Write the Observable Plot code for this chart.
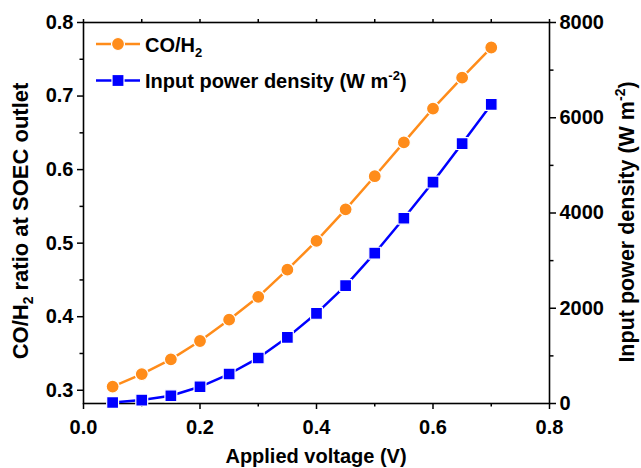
<!DOCTYPE html>
<html>
<head>
<meta charset="utf-8">
<script src="https://cdn.jsdelivr.net/npm/d3@7"></script>
<script src="https://cdn.jsdelivr.net/npm/@observablehq/plot@0.6"></script>
<style>
  html, body { margin: 0; padding: 0; background: #fff; }
  #wrap { position: relative; width: 641px; height: 468px; overflow: hidden; }
  #overlay { position: absolute; left: 0; top: 0; pointer-events: none; }
  #overlay text { font-family: "Liberation Sans", Arial, sans-serif; font-weight: bold; fill: #000; }
</style>
</head>
<body>
<div id="wrap"></div>
<script>
// ---- data ----
const voltage = [0.05, 0.10, 0.15, 0.20, 0.25, 0.30, 0.35, 0.40, 0.45, 0.50, 0.55, 0.60, 0.65, 0.70];
const coH2Ratio = [0.305, 0.322, 0.342, 0.367, 0.396, 0.427, 0.464, 0.503, 0.546, 0.591, 0.637, 0.683, 0.725, 0.766];
const powerDensity = [21, 72, 162, 351, 619, 955, 1389, 1894, 2476, 3156, 3890, 4650, 5458, 6279];

const xMajorTicks = [0.0, 0.2, 0.4, 0.6, 0.8];
const xMinorTicks = [0.1, 0.3, 0.5, 0.7];
const yLeftMajorTicks = [0.3, 0.4, 0.5, 0.6, 0.7, 0.8];
const yLeftMinorTicks = [0.35, 0.45, 0.55, 0.65, 0.75];
const yRightMajorTicks = [0, 2000, 4000, 6000, 8000];
const yRightMinorTicks = [1000, 3000, 5000, 7000];

const leftDomain = [0.282, 0.8];
const rightDomain = [0, 8000];

const orange = "#ff8c1a";
const blue = "#0000ff";

// map right-axis values onto the left y scale
const toLeft = d3.scaleLinear().domain(rightDomain).range(leftDomain);

const coData = voltage.map((v, i) => ({v, r: coH2Ratio[i]}));
const powData = voltage.map((v, i) => ({v, p: powerDensity[i], y: toLeft(powerDensity[i])}));

const font = "Liberation Sans, Arial, sans-serif";

const chart = Plot.plot({
  width: 641,
  height: 468,
  marginLeft: 83,
  marginRight: 92,
  marginTop: 22,
  marginBottom: 65,
  style: {fontFamily: font, fontSize: "20px", fontWeight: "bold", color: "#000", background: "white", overflow: "visible"},
  x: {domain: [0, 0.8]},
  y: {domain: leftDomain},
  marks: [
    Plot.axisX({ticks: xMajorTicks, tickSize: 6, tickPadding: 10, strokeWidth: 1.5, tickFormat: d3.format(".1f"), label: null}),
    Plot.axisX({ticks: xMinorTicks, tickSize: 3.5, strokeWidth: 1.5, tickFormat: () => "", label: null}),
    Plot.axisX({anchor: "top", ticks: xMajorTicks.concat(xMinorTicks), tickSize: 4, strokeWidth: 1.5, tickFormat: () => "", label: null}),
    Plot.axisY({ticks: yLeftMajorTicks, tickSize: 6, tickPadding: 4, strokeWidth: 1.5, tickFormat: d3.format(".1f"), label: null}),
    Plot.axisY({ticks: yLeftMinorTicks, tickSize: 3.5, strokeWidth: 1.5, tickFormat: () => "", label: null}),
    Plot.axisY({anchor: "right", ticks: yRightMajorTicks.map(toLeft), tickSize: 6, tickPadding: 4, strokeWidth: 1.5,
      tickFormat: d => String(Math.round(toLeft.invert(d))), label: null}),
    Plot.axisY({anchor: "right", ticks: yRightMinorTicks.map(toLeft), tickSize: 3.5, strokeWidth: 1.5, tickFormat: () => "", label: null}),
    Plot.frame({stroke: "#000", strokeWidth: 1.6}),
    Plot.line(coData, {x: "v", y: "r", stroke: orange, strokeWidth: 2.5}),
    Plot.dot(coData, {x: "v", y: "r", r: 6.5, fill: orange, stroke: "white", strokeWidth: 1.2}),
    Plot.line(powData, {x: "v", y: "y", stroke: blue, strokeWidth: 2.5}),
    Plot.dot(powData, {x: "v", y: "y", symbol: "square", r: 6.7, fill: blue, stroke: "white", strokeWidth: 1.2})
  ]
});

const wrap = document.getElementById("wrap");
wrap.appendChild(chart);

// ---- overlay: legend and axis titles (with sub/superscripts) ----
const ov = d3.select(wrap).append("svg").attr("id", "overlay").attr("width", 641).attr("height", 468);

// legend
const legendItems = [
  {color: orange, symbol: "circle", y: 44, baseline: 52},
  {color: blue, symbol: "square", y: 80.5, baseline: 87.5}
];
legendItems.forEach(it => {
  ov.append("line").attr("x1", 96).attr("x2", 140).attr("y1", it.y).attr("y2", it.y)
    .attr("stroke", it.color).attr("stroke-width", 2.5);
  if (it.symbol === "circle") {
    ov.append("circle").attr("cx", 118).attr("cy", it.y).attr("r", 6.5).attr("fill", it.color).attr("stroke", "white").attr("stroke-width", 1.2);
  } else {
    ov.append("rect").attr("x", 118 - 6).attr("y", it.y - 6).attr("width", 12).attr("height", 12).attr("fill", it.color).attr("stroke", "white").attr("stroke-width", 1.2);
  }
});
const t1 = ov.append("text").attr("x", 145).attr("y", legendItems[0].baseline).attr("font-size", 20);
t1.append("tspan").text("CO/H");
t1.append("tspan").attr("font-size", 13).attr("dy", 5).text("2");
const t2 = ov.append("text").attr("x", 145).attr("y", legendItems[1].baseline).attr("font-size", 20);
t2.append("tspan").text("Input power density (W m");
t2.append("tspan").attr("font-size", 13).attr("dy", -8).text("-2");
t2.append("tspan").attr("dy", 8).text(")");

// x title
ov.append("text").attr("x", 316).attr("y", 463).attr("text-anchor", "middle").attr("font-size", 20).text("Applied voltage (V)");

// left y title
const lt = ov.append("text").attr("transform", "translate(28,221) rotate(-90)").attr("text-anchor", "middle").attr("font-size", 22);
lt.append("tspan").text("CO/H");
lt.append("tspan").attr("font-size", 14).attr("dy", 5).text("2");
lt.append("tspan").attr("dy", -5).text(" ratio at SOEC outlet");

// right y title
const rt = ov.append("text").attr("transform", "translate(634,222) rotate(-90)").attr("text-anchor", "middle").attr("font-size", 21.5);
rt.append("tspan").text("Input power density (W m");
rt.append("tspan").attr("font-size", 14).attr("dy", -9).text("-2");
rt.append("tspan").attr("dy", 9).text(")");
</script>
</body>
</html>
